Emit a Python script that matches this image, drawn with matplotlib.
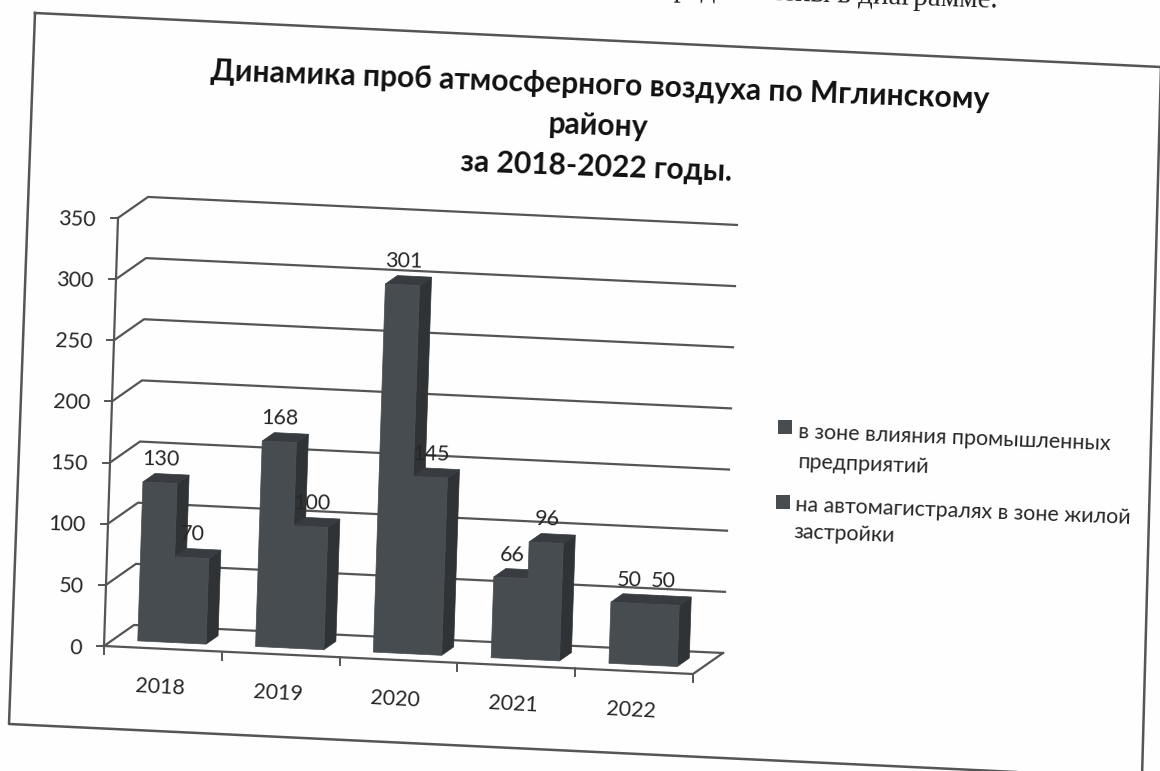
import numpy as np
import matplotlib
matplotlib.use('Agg')
import matplotlib.pyplot as plt
from matplotlib.transforms import Affine2D

plt.rcParams['font.family'] = ['Lato', 'DejaVu Sans']

#values
years = ['2018', '2019', '2020', '2021', '2022']
industry = [130, 168, 301, 66, 50]
roads = [70, 100, 145, 96, 50]
y_ticks = [0, 50, 100, 150, 200, 250, 300, 350]
title = 'Динамика проб атмосферного воздуха по Мглинскому\nрайону\nза 2018-2022 годы.'
legend_lines = ['в зоне влияния промышленных', 'предприятий',
                'на автомагистралях в зоне жилой', 'застройки']

#the scan is skewed, so the chart is laid out through one affine map:
#(category, value) -> pixels of the picture
chart = Affine2D.from_values(117.8, 5.6, 0.04, -1.223, 104, 646)
depth = np.array([30, -21])
bar_w = 0.29
bar_x0 = 0.21
d_front, d_back = 0.3, 0.7

front_col = '#474c50'
side_col = '#2f3336'
top_col = '#383c40'
line_col = '#555555'
text_col = '#262626'


def proj(x, v, d=0):
    return chart.transform_point((x, v)) + d * depth


fig = plt.figure(figsize=(11.6, 7.71), dpi=100)
ax = fig.add_axes([0, 0, 1, 1])

#outer frame of the chart
frame_x = [35, 1161, 1142, 9, 35]
frame_y = [13, 67, 778, 724, 13]
ax.plot(frame_x, frame_y, color=line_col, lw=1.8, zorder=0.5)

#scrap of the text line above the chart
ax.text(998, 8, 'представлены в диаграмме.', family='Liberation Serif', fontsize=21,
        color='#222222', ha='right', va='baseline', rotation=-2, rotation_mode='anchor')

#gridlines, walls and axes
n = len(years)
for v in y_ticks:
    a, b, c = proj(0, v), proj(0, v, 1), proj(n, v, 1)
    ax.plot([a[0], b[0], c[0]], [a[1], b[1], c[1]], color=line_col, lw=1.6, zorder=0.5)
    ax.plot([a[0] - 7, a[0]], [a[1], a[1]], color=line_col, lw=1.4, zorder=0.5)
    ax.text(a[0] - 22, a[1] + 2, str(v), fontsize=15.5, color=text_col, ha='right', va='center',
            rotation=-2, rotation_mode='anchor')

a, b = proj(0, 0), proj(0, y_ticks[-1])
ax.plot([a[0], b[0]], [a[1], b[1]], color=line_col, lw=1.6, zorder=0.5)
a, b, c = proj(0, 0), proj(n, 0), proj(n, 0, 1)
ax.plot([a[0], b[0], c[0]], [a[1], b[1], c[1]], color=line_col, lw=1.6, zorder=0.5)
for i in range(n + 1):
    a = proj(i, 0)
    ax.plot([a[0], a[0]], [a[1], a[1] + 8], color=line_col, lw=1.4, zorder=0.5)
for i, label in enumerate(years):
    a = proj(i + 0.5, 0)
    ax.text(a[0] - 3, a[1] + 39, label, fontsize=15.5, color=text_col, ha='center', va='center',
            rotation=-3, rotation_mode='anchor')


#one 3d looking column: side, top, then front through ax.bar
def column(x, v):
    x1 = x + bar_w
    side = [proj(x1, 0, d_front), proj(x1, 0, d_back), proj(x1, v, d_back), proj(x1, v, d_front)]
    top = [proj(x, v, d_front), proj(x1, v, d_front), proj(x1, v, d_back), proj(x, v, d_back)]
    ax.fill(*zip(*side), color=side_col, lw=0.5)
    ax.fill(*zip(*top), color=top_col, lw=0.5)
    shift = Affine2D().translate(*(d_front * depth))
    ax.bar(x, v, bar_w, align='edge', color=front_col, lw=0.5, edgecolor=front_col,
           transform=chart + shift + ax.transData)


for i in range(n):
    column(i + bar_x0, industry[i])
    column(i + bar_x0 + bar_w, roads[i])

#data labels sit above the front top edge of each column
for i in range(n):
    for k, vals in enumerate([industry, roads]):
        a = proj(i + bar_x0 + bar_w * (k + 0.5), vals[i], d_front)
        ax.text(a[0] + 1, a[1] - 23, str(vals[i]), fontsize=15.5, color=text_col, ha='center',
                va='center', rotation=-1, rotation_mode='anchor', zorder=5)

ax.text(598, 126, title, fontsize=21.6, fontweight='bold', color='#111111', ha='center', va='center',
        multialignment='center', linespacing=1.55, rotation=-2.1, rotation_mode='anchor')

#legend
leg_x = [798, 798, 795, 794]
leg_y = [432, 462, 505, 532]
for x, y, line in zip(leg_x, leg_y, legend_lines):
    ax.text(x, y, line, fontsize=15.4, color=text_col, ha='left', va='center',
            rotation=-2.2, rotation_mode='anchor')
ax.scatter([785, 783], [427, 502], marker='s', s=95, color=front_col, lw=0)

ax.set_xlim(0, 1160)
ax.set_ylim(771, 0)
ax.axis('off')

fig.savefig('out.png', dpi=100, facecolor='#fefefe')
